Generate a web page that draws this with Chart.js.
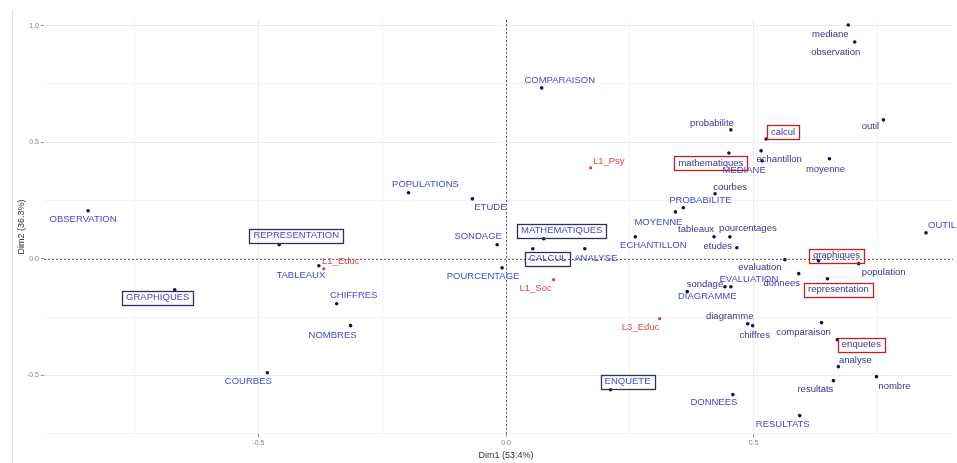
<!DOCTYPE html>
<html>
<head>
<meta charset="utf-8">
<script src="https://cdn.jsdelivr.net/npm/chart.js@4/dist/chart.umd.min.js"></script>
<style>
  html, body { margin: 0; padding: 0; background: #fff; }
  #wrap { width: 957px; height: 463px; position: relative; }
</style>
</head>
<body>
<div id="wrap"><canvas id="ca" width="957" height="463"></canvas></div>
<script>
// column points (upper case)
const colNames = ["OBSERVATION", "REPRESENTATION", "GRAPHIQUES", "COURBES", "TABLEAUX", "CHIFFRES", "NOMBRES",
  "POPULATIONS", "ETUDE", "SONDAGE", "POURCENTAGE", "COMPARAISON", "MATHEMATIQUES", "CALCUL", "ANALYSE",
  "ECHANTILLON", "MOYENNE", "PROBABILITE", "MEDIANE", "EVALUATION", "DIAGRAMME", "ENQUETE", "DONNEES",
  "RESULTATS", "OUTIL"];
const colX = [-0.844, -0.458, -0.669, -0.482, -0.378, -0.342, -0.314,
  -0.197, -0.068, -0.018, -0.008, 0.072, 0.076, 0.054, 0.159,
  0.261, 0.342, 0.358, 0.517, 0.454, 0.366, 0.211, 0.458,
  0.593, 0.848];
const colY = [0.206, 0.060, -0.133, -0.489, -0.030, -0.193, -0.287,
  0.283, 0.257, 0.060, -0.039, 0.733, 0.086, 0.043, 0.043,
  0.094, 0.201, 0.219, 0.420, -0.120, -0.141, -0.562, -0.583,
  -0.673, 0.111];

// row points (lower case)
const rowNames = ["mediane", "observation", "outil", "probabilite", "calcul", "echantillon", "mathematiques",
  "moyenne", "courbes", "tableaux", "pourcentages", "etudes", "evaluation", "graphiques", "population",
  "donnees", "representation", "sondage", "diagramme", "chiffres", "comparaison", "enquetes", "analyse",
  "resultats", "nombre"];
const rowX = [0.691, 0.704, 0.762, 0.454, 0.525, 0.515, 0.450,
  0.653, 0.422, 0.420, 0.452, 0.466, 0.563, 0.631, 0.712,
  0.591, 0.649, 0.442, 0.488, 0.498, 0.637, 0.669, 0.671,
  0.661, 0.748];
const rowY = [1.003, 0.930, 0.596, 0.553, 0.514, 0.463, 0.454,
  0.429, 0.279, 0.094, 0.094, 0.047, -0.004, -0.009, -0.021,
  -0.064, -0.086, -0.120, -0.279, -0.287, -0.274, -0.347, -0.463,
  -0.523, -0.506];

// groups (red)
const grpNames = ["L1_Psy", "L1_Educ", "L1_Soc", "L3_Educ"];
const grpX = [0.171, -0.368, 0.096, 0.310];
const grpY = [0.390, -0.043, -0.090, -0.257];

const boxedCols = ["REPRESENTATION", "GRAPHIQUES", "MATHEMATIQUES", "CALCUL", "ENQUETE"];
const boxedRows = ["calcul", "mathematiques", "graphiques", "representation", "enquetes"];

// label placement (pixels from the point, like the repelled labels)
const labelShift = {
  OBSERVATION: [-5, 9], REPRESENTATION: [17, -9], GRAPHIQUES: [-17, 8], COURBES: [-19, 9],
  TABLEAUX: [-18, 10], CHIFFRES: [17, -8], NOMBRES: [-18, 10], POPULATIONS: [17, -8],
  ETUDE: [18, 9], SONDAGE: [-19, -8], POURCENTAGE: [-19, 9], COMPARAISON: [18, -8],
  MATHEMATIQUES: [18, -8], CALCUL: [15, 10], ANALYSE: [11, 10], ECHANTILLON: [18, 9],
  MOYENNE: [-17, 10], PROBABILITE: [17, -7], MEDIANE: [-18, 10], EVALUATION: [18, -7],
  DIAGRAMME: [20, 5], ENQUETE: [17, -8], DONNEES: [-19, 8], RESULTATS: [-17, 9], OUTIL: [16, -7],
  mediane: [-18, 9], observation: [-19, 10], outil: [-13, 7], probabilite: [-19, -6],
  calcul: [17, -7], echantillon: [18, 9], mathematiques: [-18, 10], moyenne: [-4, 11],
  courbes: [15, -6], tableaux: [-18, -7], pourcentages: [18, -8], etudes: [-19, -1],
  evaluation: [-25, 8], graphiques: [18, -5], population: [25, 9], donnees: [-17, 10],
  representation: [11, 11], sondage: [-20, -2], diagramme: [-18, -7], chiffres: [2, 10],
  comparaison: [-18, 10], enquetes: [24, 5], analyse: [17, -6], resultats: [-18, 9], nombre: [18, 10],
  L1_Psy: [18, -6], L1_Educ: [17, -7], L1_Soc: [-18, 9], L3_Educ: [-19, 9]
};

const groups = [
  { names: colNames, boxed: boxedCols, text: "#4646d8", box: "#30305a" },
  { names: rowNames, boxed: boxedRows, text: "#35358a", box: "#c42020" },
  { names: grpNames, boxed: [], text: "#e64545", box: "#e64545" }
];

const pts = (xs, ys) => xs.map((x, i) => ({ x: x, y: ys[i] }));
const isMajor = v => Math.abs(v * 2 - Math.round(v * 2)) < 1e-6;

const caLabels = {
  id: "caLabels",
  beforeDatasetsDraw(chart) {
    const { ctx, chartArea: a, scales } = chart;
    const x0 = scales.x.getPixelForValue(0);
    const y0 = scales.y.getPixelForValue(0);
    ctx.save();
    ctx.strokeStyle = "#666";
    ctx.lineWidth = 1;
    ctx.setLineDash([2, 2]);
    ctx.beginPath();
    ctx.moveTo(Math.round(x0) + 0.5, a.top);
    ctx.lineTo(Math.round(x0) + 0.5, a.bottom);
    ctx.moveTo(a.left, Math.round(y0) + 0.5);
    ctx.lineTo(a.right, Math.round(y0) + 0.5);
    ctx.stroke();
    ctx.restore();
  },
  afterDatasetsDraw(chart) {
    const ctx = chart.ctx;
    ctx.save();
    ctx.font = "9.5px 'Liberation Sans', Arial, sans-serif";
    ctx.textAlign = "center";
    ctx.textBaseline = "middle";
    groups.forEach((g, di) => {
      const meta = chart.getDatasetMeta(di);
      g.names.forEach((name, j) => {
        const el = meta.data[j];
        const s = labelShift[name] || [0, -10];
        const tx = el.x + s[0], ty = el.y + s[1];
        ctx.fillStyle = g.text;
        ctx.fillText(name, tx, ty);
        if (g.boxed.includes(name)) {
          const w = ctx.measureText(name).width;
          ctx.strokeStyle = g.box;
          ctx.lineWidth = 1.3;
          ctx.strokeRect(Math.round(tx - w / 2 - 4) + 0.5, Math.round(ty - 7) + 0.5,
            Math.round(w + 8), 14);
        }
      });
    });
    ctx.restore();
  },
  afterDraw(chart) {
    const { ctx, chartArea: a } = chart;
    ctx.save();
    ctx.fillStyle = "#333";
    ctx.font = "9px 'Liberation Sans', Arial, sans-serif";
    ctx.textAlign = "center";
    ctx.textBaseline = "middle";
    ctx.fillText("Dim1 (53.4%)", chart.scales.x.getPixelForValue(0), 456);
    ctx.translate(22, (a.top + a.bottom) / 2);
    ctx.rotate(-Math.PI / 2);
    ctx.fillText("Dim2 (36.3%)", 0, 0);
    ctx.restore();
    // thin frame line at the far left of the picture
    ctx.save();
    ctx.strokeStyle = "#e2e2e2";
    ctx.beginPath();
    ctx.moveTo(12.5, 10);
    ctx.lineTo(12.5, 463);
    ctx.stroke();
    ctx.restore();
  }
};

const axisTicks = {
  x: [-0.75, -0.5, -0.25, 0, 0.25, 0.5, 0.75],
  y: [-0.75, -0.5, -0.25, 0, 0.25, 0.5, 0.75, 1.0]
};

function scaleOpts(axis, min, max) {
  return {
    type: "linear",
    min: min,
    max: max,
    border: { display: false },
    afterBuildTicks: s => { s.ticks = axisTicks[axis].map(v => ({ value: v })); },
    afterFit: s => { if (axis === "y") s.width = 44; else s.height = 29; },
    grid: {
      color: c => (c.tick && isMajor(c.tick.value)) ? "#ebebeb" : "#f5f5f5",
      tickColor: c => (c.tick && isMajor(c.tick.value)) ? "#999" : "rgba(0,0,0,0)",
      tickLength: 3,
      lineWidth: 1
    },
    ticks: {
      autoSkip: false,
      maxRotation: 0,
      padding: 2,
      color: "#888",
      font: { family: "'Liberation Sans', Arial, sans-serif", size: 7 },
      callback: v => isMajor(v) ? v.toFixed(1) : ""
    }
  };
}

new Chart(document.getElementById("ca"), {
  type: "scatter",
  data: {
    datasets: [
      { data: pts(colX, colY), backgroundColor: "#10105a", borderWidth: 0, pointRadius: 1.8 },
      { data: pts(rowX, rowY), backgroundColor: "#10105a", borderWidth: 0, pointRadius: 1.8 },
      { data: pts(grpX, grpY), backgroundColor: "#e23c3c", borderWidth: 0, pointRadius: 1.6 }
    ]
  },
  options: {
    responsive: false,
    animation: false,
    layout: { padding: { top: 20, left: 0, right: 0, bottom: 0 } },
    plugins: { legend: { display: false }, tooltip: { enabled: false } },
    scales: {
      x: scaleOpts("x", -0.933, 0.9025),
      y: scaleOpts("y", -0.752, 1.0244)
    }
  },
  plugins: [caLabels]
});
</script>
</body>
</html>
